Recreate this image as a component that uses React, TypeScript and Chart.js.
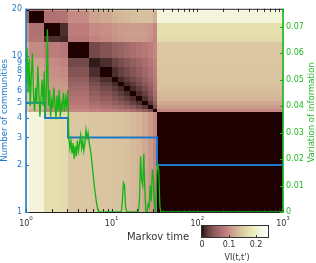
import { useEffect, useRef } from "react";
import { Chart, registerables } from "chart.js";

Chart.register(...registerables);

const FONT = "'DejaVu Sans', 'Liberation Sans', sans-serif";
const BLUE = "#1f78c8";
const GREEN = "#14b414";
const GREEN_TEXT = "#22b822";

// ---------- data ----------
// Markov-time block boundaries of the VI(t,t') matrix
const blockEdges = [1, 1.08, 1.62, 2.5, 3.09, 5.4, 7.3, 10.1, 11.9, 13.9, 16.4, 19.2, 22.6, 26.5, 30.3, 33.8, 1000];
// upper triangle of the symmetric VI(t,t') block matrix (row i holds columns i..end)
const viBlocks = [
  [0, 0.06, 0.1, 0.1, 0.125, 0.14, 0.145, 0.15, 0.15, 0.15, 0.155, 0.155, 0.155, 0.155, 0.15, 0.232],
  [0, 0.072, 0.075, 0.097, 0.115, 0.12, 0.128, 0.132, 0.135, 0.138, 0.14, 0.14, 0.138, 0.125, 0.212],
  [0, 0.012, 0.085, 0.097, 0.1, 0.105, 0.108, 0.11, 0.112, 0.112, 0.11, 0.105, 0.095, 0.172],
  [0.008, 0.08, 0.092, 0.097, 0.102, 0.105, 0.108, 0.11, 0.11, 0.108, 0.103, 0.093, 0.168],
  [0, 0.03, 0.04, 0.05, 0.056, 0.062, 0.068, 0.074, 0.08, 0.087, 0.095, 0.148],
  [0.004, 0.012, 0.025, 0.034, 0.042, 0.05, 0.058, 0.067, 0.077, 0.09, 0.146],
  [0, 0.012, 0.022, 0.031, 0.04, 0.049, 0.059, 0.07, 0.087, 0.145],
  [0, 0.01, 0.02, 0.03, 0.04, 0.051, 0.064, 0.083, 0.144],
  [0, 0.01, 0.02, 0.031, 0.043, 0.057, 0.078, 0.142],
  [0, 0.01, 0.021, 0.034, 0.05, 0.074, 0.14],
  [0, 0.011, 0.024, 0.042, 0.068, 0.136],
  [0, 0.013, 0.032, 0.06, 0.13],
  [0, 0.018, 0.05, 0.12],
  [0, 0.035, 0.108],
  [0, 0.095],
  [0],
];

// number of communities (step line)
const commTimes = [1, 1.67, 3.09, 33.8, 1000];
const commCounts = [5, 4, 3, 2, 2];

// variation of information, sampled every 0.0125 in log10(Markov time) from t = 1
const viLogStep = 0.0125;
const viSeries = [
  0.05, 0.062, 0.045, 0.058, 0.04, 0.052, 0.06, 0.044, 0.038, 0.047,
  0.041, 0.055, 0.046, 0.036, 0.043, 0.05, 0.04, 0.053, 0.037, 0.045,
  0.069, 0.04, 0.046, 0.036, 0.042, 0.039, 0.047, 0.041, 0.035, 0.044,
  0.038, 0.046, 0.036, 0.041, 0.039, 0.045, 0.038, 0.043, 0.04, 0.046,
  0.028, 0.024, 0.027, 0.022, 0.026, 0.02, 0.025, 0.021, 0.027, 0.023,
  0.026, 0.029, 0.024, 0.027, 0.023, 0.026, 0.031, 0.028, 0.03, 0.026,
  0.024, 0.021, 0.017, 0.013, 0.009, 0.006, 0.003, 0.001, 0, 0,
  0, 0, 0, 0, 0, 0, 0, 0, 0, 0,
  0, 0, 0, 0, 0, 0, 0, 0, 0, 0,
  0.004, 0.011, 0.01, 0.002, 0, 0, 0, 0, 0, 0,
  0, 0, 0, 0, 0, 0, 0.005, 0.021, 0.012, 0.01,
  0.022, 0.008, 0, 0, 0.003, 0.002, 0.01, 0.004, 0.016, 0.012,
  0.003, 0, 0.014, 0.018, 0.016, 0.002, 0,
];
const viFinalTime = 1000;
const viFinalValue = 0;

const xMajorTicks = [1, 10, 100, 1000];
const xMajorExponents = ["0", "1", "2", "3"];
const commTicks = [1, 2, 3, 4, 5, 6, 7, 8, 9, 10, 20];
const viTicks = [0, 0.01, 0.02, 0.03, 0.04, 0.05, 0.06, 0.07];
const colorbarTicks = [0, 0.1, 0.2];
const colorbarTickLabels = ["0", "0.1", "0.2"];
const colorbarMax = 0.244;
const commMax = 20;
const viMax = 0.0767;

// ---------- helpers ----------
function pinkColor(v: number): string {
  const x = Math.min(1, Math.max(0, v / colorbarMax));
  const k = x * 63 + 1;
  const hr = Math.min(1, k / 24);
  const hg = Math.min(1, Math.max(0, (k - 24) / 24));
  const hb = Math.min(1, Math.max(0, (k - 48) / 16));
  const r = Math.sqrt((2 * x + hr) / 3);
  const g = Math.sqrt((2 * x + hg) / 3);
  const b = Math.sqrt((2 * x + hb) / 3);
  return `rgb(${Math.round(r * 255)},${Math.round(g * 255)},${Math.round(b * 255)})`;
}

function blockValue(i: number, j: number): number {
  return i <= j ? viBlocks[i][j - i] : viBlocks[j][i - j];
}

function minorXTicks(): number[] {
  const out: number[] = [];
  for (let d = 0; d < xMajorTicks.length; d++) {
    out.push(xMajorTicks[d]);
    if (d < xMajorTicks.length - 1) {
      for (let k = 2; k <= 9; k++) out.push(xMajorTicks[d] * k);
    }
  }
  return out;
}

const heatmapPlugin = {
  id: "heatmapAxes",
  beforeDatasetsDraw(chart: any) {
    const { ctx, chartArea } = chart;
    const xs = chart.scales.x;
    const ys = chart.scales.yT;
    const n = blockEdges.length - 1;
    ctx.save();
    ctx.beginPath();
    ctx.rect(chartArea.left, chartArea.top, chartArea.right - chartArea.left, chartArea.bottom - chartArea.top);
    ctx.clip();
    for (let i = 0; i < n; i++) {
      const xa = Math.round(xs.getPixelForValue(blockEdges[i]));
      const xb = Math.round(xs.getPixelForValue(blockEdges[i + 1]));
      for (let j = 0; j < n; j++) {
        const ya = Math.round(ys.getPixelForValue(blockEdges[j]));
        const yb = Math.round(ys.getPixelForValue(blockEdges[j + 1]));
        ctx.fillStyle = pinkColor(blockValue(i, j));
        ctx.fillRect(xa, Math.min(ya, yb), xb - xa, Math.abs(yb - ya));
      }
    }
    ctx.restore();

    const { left, right, top, bottom } = chartArea;
    ctx.save();
    ctx.lineWidth = 1;
    ctx.strokeStyle = "#222";
    ctx.beginPath();
    ctx.moveTo(left, bottom + 0.5);
    ctx.lineTo(right, bottom + 0.5);
    ctx.moveTo(left, top + 0.5);
    ctx.lineTo(right, top + 0.5);
    ctx.stroke();
    ctx.beginPath();
    for (const t of minorXTicks()) {
      const px = Math.round(xs.getPixelForValue(t)) + 0.5;
      ctx.moveTo(px, bottom);
      ctx.lineTo(px, bottom - 3);
      ctx.moveTo(px, top);
      ctx.lineTo(px, top + 3);
    }
    ctx.stroke();
    const yc = chart.scales.yC;
    ctx.strokeStyle = BLUE;
    ctx.lineWidth = 1.6;
    ctx.beginPath();
    ctx.moveTo(left, top);
    ctx.lineTo(left, bottom + 1);
    ctx.stroke();
    ctx.lineWidth = 1;
    ctx.beginPath();
    for (const v of commTicks) {
      const py = Math.round(yc.getPixelForValue(v)) + 0.5;
      ctx.moveTo(left, py);
      ctx.lineTo(left + 3, py);
    }
    ctx.stroke();
    const yv = chart.scales.yV;
    ctx.strokeStyle = GREEN;
    ctx.lineWidth = 1.6;
    ctx.beginPath();
    ctx.moveTo(right, top);
    ctx.lineTo(right, bottom + 1);
    ctx.stroke();
    ctx.lineWidth = 1;
    ctx.beginPath();
    for (const v of viTicks) {
      const py = Math.round(yv.getPixelForValue(v)) + 0.5;
      ctx.moveTo(right, py);
      ctx.lineTo(right - 3, py);
    }
    ctx.stroke();
    ctx.restore();
  },
  afterDraw(chart: any) {
    const { ctx, chartArea } = chart;
    const xs = chart.scales.x;
    ctx.save();
    ctx.fillStyle = "#333";
    ctx.textBaseline = "middle";
    ctx.textAlign = "left";
    xMajorTicks.forEach((t, k) => {
      const px = xs.getPixelForValue(t);
      ctx.font = `8px ${FONT}`;
      const wb = ctx.measureText("10").width;
      ctx.font = `5.5px ${FONT}`;
      const we = ctx.measureText(xMajorExponents[k]).width;
      const start = px - (wb + we) / 2;
      ctx.font = `8px ${FONT}`;
      ctx.fillText("10", start, 224);
      ctx.font = `5.5px ${FONT}`;
      ctx.fillText(xMajorExponents[k], start + wb, 219);
    });
    ctx.font = `10px ${FONT}`;
    ctx.textAlign = "center";
    ctx.fillStyle = "#333";
    ctx.fillText("Markov time", 158, 237);

    const midY = (chartArea.top + chartArea.bottom) / 2;
    ctx.font = `8.5px ${FONT}`;
    ctx.save();
    ctx.translate(5, midY);
    ctx.rotate(-Math.PI / 2);
    ctx.fillStyle = BLUE;
    ctx.fillText("Number of communities", 0, 0);
    ctx.restore();
    ctx.save();
    ctx.translate(312, midY + 2);
    ctx.rotate(-Math.PI / 2);
    ctx.fillStyle = GREEN_TEXT;
    ctx.fillText("Variation of information", 0, 0);
    ctx.restore();

    const cbL = 202, cbT = 226, cbW = 66, cbH = 11;
    for (let i = 0; i < cbW; i++) {
      ctx.fillStyle = pinkColor(((i + 0.5) / cbW) * colorbarMax);
      ctx.fillRect(cbL + i, cbT, 1, cbH);
    }
    ctx.strokeStyle = "#333";
    ctx.lineWidth = 1;
    ctx.strokeRect(cbL - 0.5, cbT - 0.5, cbW + 1, cbH + 1);
    ctx.beginPath();
    colorbarTicks.forEach((v) => {
      const px = Math.round(cbL + (v / colorbarMax) * cbW) + 0.5;
      ctx.moveTo(px, cbT + cbH);
      ctx.lineTo(px, cbT + cbH - 2);
    });
    ctx.stroke();
    ctx.font = `8px ${FONT}`;
    ctx.fillStyle = "#333";
    ctx.textAlign = "center";
    colorbarTicks.forEach((v, k) => {
      const px = cbL + (v / colorbarMax) * cbW;
      ctx.fillText(colorbarTickLabels[k], px, 245);
    });
    ctx.font = `8px ${FONT}`;
    ctx.fillText("VI(t,t')", 237, 258);
    ctx.restore();
  },
};

export default function App() {
  const canvasRef = useRef<HTMLCanvasElement | null>(null);

  useEffect(() => {
    document.body.style.margin = "0";
    const canvas = canvasRef.current;
    if (!canvas) return;

    const viPoints = viSeries.map((v, i) => ({ x: Math.pow(10, i * viLogStep), y: v }));
    viPoints.push({ x: viFinalTime, y: viFinalValue });
    const commPoints = commTimes.map((t, i) => ({ x: t, y: commCounts[i] }));

    const chart = new Chart(canvas, {
      type: "line",
      data: {
        datasets: [
          {
            label: "Variation of information",
            data: viPoints,
            yAxisID: "yV",
            xAxisID: "x",
            borderColor: GREEN,
            borderWidth: 1.3,
            pointRadius: 0,
            tension: 0,
            fill: false,
            order: 0,
          },
          {
            label: "Number of communities",
            data: commPoints,
            yAxisID: "yC",
            xAxisID: "x",
            borderColor: BLUE,
            borderWidth: 2,
            pointRadius: 0,
            stepped: "before",
            fill: false,
            order: 1,
          },
        ],
      },
      options: {
        responsive: false,
        animation: false,
        devicePixelRatio: 1,
        layout: { padding: { top: 5, bottom: 51, left: 0, right: 0 } },
        plugins: { legend: { display: false }, tooltip: { enabled: false } },
        events: [],
        scales: {
          x: { type: "logarithmic", min: 1, max: 1000, display: false },
          yT: { type: "logarithmic", min: 1, max: 1000, reverse: true, display: false },
          yC: {
            type: "logarithmic",
            position: "left",
            min: 1,
            max: commMax,
            grid: { display: false, drawTicks: false },
            border: { display: false },
            afterBuildTicks: (s: any) => {
              s.ticks = commTicks.map((v) => ({ value: v }));
            },
            afterFit: (s: any) => {
              s.width = 26;
            },
            ticks: {
              autoSkip: false,
              padding: 4,
              color: BLUE,
              font: { family: FONT, size: 8 },
              callback: (v: any) => String(v),
            },
          },
          yV: {
            type: "linear",
            position: "right",
            min: 0,
            max: viMax,
            grid: { display: false, drawTicks: false },
            border: { display: false },
            afterBuildTicks: (s: any) => {
              s.ticks = viTicks.map((v) => ({ value: v }));
            },
            afterFit: (s: any) => {
              s.width = 33;
            },
            ticks: {
              autoSkip: false,
              padding: 3,
              color: GREEN_TEXT,
              font: { family: FONT, size: 8 },
              callback: (v: any) => (v === 0 ? "0" : Number(v).toFixed(2)),
            },
          },
        },
      } as any,
      plugins: [heatmapPlugin],
    });
    return () => chart.destroy();
  }, []);

  return (
    <div style={{ position: "fixed", left: 0, top: 0, width: 316, height: 263, background: "#fff" }}>
      <canvas ref={canvasRef} width={316} height={263} style={{ display: "block", width: 316, height: 263 }} />
    </div>
  );
}
